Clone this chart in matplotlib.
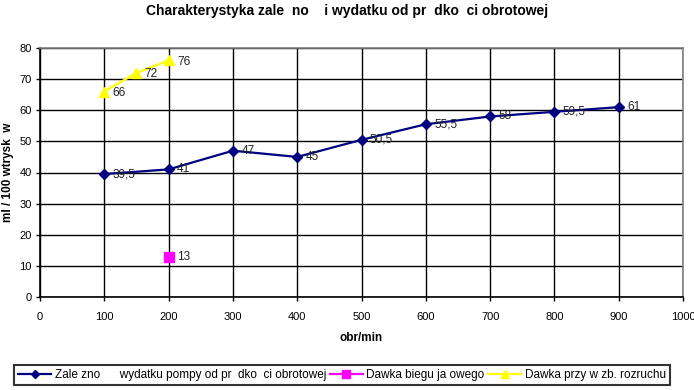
import numpy as np
import matplotlib
matplotlib.use("Agg")
import matplotlib.pyplot as plt

plt.rcParams["font.family"] = ["Liberation Sans", "DejaVu Sans"]

# dane
obroty = [100, 200, 300, 400, 500, 600, 700, 800, 900]
wydatek = [39.5, 41, 47, 45, 50.5, 55.5, 58, 59.5, 61]
wydatek_lbl = ["39,5", "41", "47", "45", "50,5", "55,5", "58", "59,5", "61"]
bieg_x = [200]
bieg_y = [13]
rozruch_x = [100, 150, 200]
rozruch_y = [66, 72, 76]

x_ticks = np.arange(0, 1001, 100)
y_ticks = np.arange(0, 81, 10)

tytul = "Charakterystyka zale  no    i wydatku od pr  dko  ci obrotowej"
leg1 = "Zale zno      wydatku pompy od pr  dko  ci obrotowej"
leg2 = "Dawka biegu ja owego"
leg3 = "Dawka przy w zb. rozruchu"

fig = plt.figure(figsize=(6.94, 3.90), dpi=100)
ax = fig.add_axes([40/694, 1 - 297/390, 643/694, 249/390])

ax.grid(True, color="black", linewidth=1.0)
ax.set_axisbelow(True)

ax.plot(obroty, wydatek, color="#000080", marker="D", markersize=5, linewidth=1.6,
        label=leg1, zorder=3)
ax.plot(bieg_x, bieg_y, color="magenta", marker="s", markersize=6.5, linewidth=1.6,
        label=leg2, zorder=3)
ax.plot(rozruch_x, rozruch_y, color="yellow", marker="^", markersize=7, linewidth=1.6,
        label=leg3, zorder=3)

for xv, yv, t in zip(obroty, wydatek, wydatek_lbl):
    ax.annotate(t, (xv, yv), xytext=(6, 0), textcoords="offset points",
                ha="left", va="center", fontsize=8.5, color="#222222", zorder=4)
for xv, yv in zip(bieg_x, bieg_y):
    ax.annotate(f"{yv}", (xv, yv), xytext=(6, 0), textcoords="offset points",
                ha="left", va="center", fontsize=8.5, color="#222222")
for xv, yv in zip(rozruch_x, rozruch_y):
    ax.annotate(f"{yv}", (xv, yv), xytext=(6, -1), textcoords="offset points",
                ha="left", va="center", fontsize=8.5, color="#222222")

ax.set_xlim(0, 1000)
ax.set_ylim(0, 80)
ax.set_xticks(x_ticks)
ax.set_yticks(y_ticks)
ax.tick_params(labelsize=8, length=3, width=1, colors="black", pad=8)
ax.tick_params(axis="y", pad=3)

for s in ["top", "right"]:
    ax.spines[s].set_color("#808080")
    ax.spines[s].set_linewidth(1.2)
for s in ["left", "bottom"]:
    ax.spines[s].set_color("black")
    ax.spines[s].set_linewidth(1.2)

ax.set_xlabel("obr/min", fontsize=8.5, fontweight="bold", labelpad=7)
ax.set_ylabel("ml / 100 wtrysk  w", fontsize=8.5, fontweight="bold", labelpad=4)
fig.text(0.5, 1 - 11/390, tytul, ha="center", va="center", fontsize=10,
         fontweight="bold")

leg = fig.legend(loc="center", bbox_to_anchor=(342/694, 1 - 375/390), ncol=3,
                 fontsize=8.5, frameon=True, fancybox=False, edgecolor="black",
                 handlelength=2.8, handletextpad=0.3, columnspacing=0.3,
                 borderpad=0.35, markerscale=0.9)
leg.get_frame().set_linewidth(1.5)

fig.savefig("out.png", dpi=100)
